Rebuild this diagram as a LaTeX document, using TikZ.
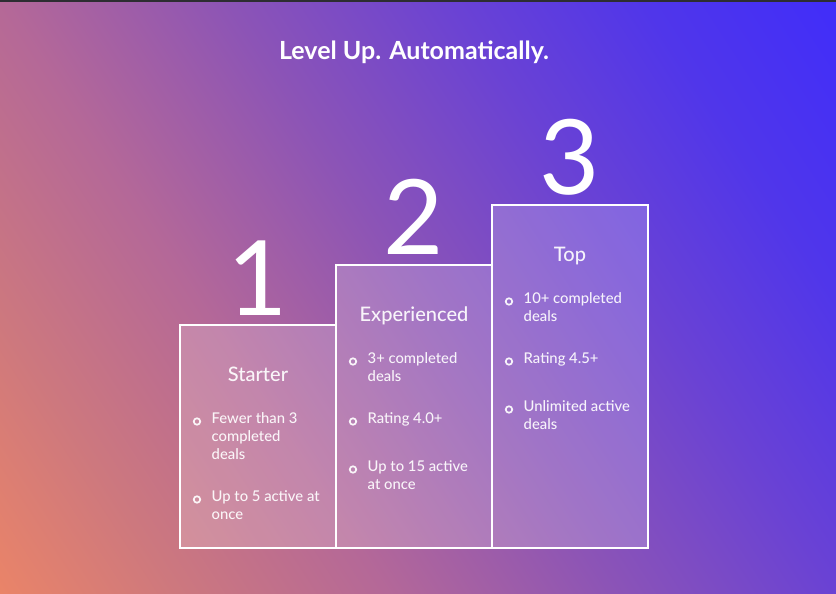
\documentclass[tikz,border=0pt]{standalone}
\usepackage{fontspec}
\setmainfont{Lato Medium}[BoldFont={Lato Bold}]
\newfontfamily\numfont{Lato}
\definecolor{s0}{RGB}{234,132,104}
\definecolor{s1}{RGB}{205,120,126}
\definecolor{s2}{RGB}{180,104,152}
\definecolor{s3}{RGB}{140,84,182}
\definecolor{s4}{RGB}{106,66,212}
\definecolor{s5}{RGB}{80,54,234}
\definecolor{s6}{RGB}{64,45,250}
\definecolor{topbar}{RGB}{45,45,50}
\pgfdeclarehorizontalshading{bgshade}{1200bp}{color(0bp)=(s0); color(150bp)=(s1); color(324bp)=(s2); color(512bp)=(s3); color(700bp)=(s4); color(860bp)=(s5); color(1026bp)=(s6)}
\tikzset{
  tier/.style={draw=white, line width=1.6pt, fill=white, fill opacity=0.2, draw opacity=1, minimum width=156pt, inner sep=0pt},
  bignum/.style={text=white, font=\numfont\fontsize{104}{104}\selectfont, inner sep=0pt, anchor=base},
  head/.style={text=white, text opacity=0.92, font=\fontsize{20}{24}\selectfont, inner sep=0pt, anchor=base},
  item/.style={text=white, text opacity=0.92, font=\fontsize{14.8}{18}\selectfont, inner sep=0pt, anchor=north west, align=left},
  bul/.style={circle, draw=white, line width=1.7pt, minimum size=6.5pt, inner sep=0pt, draw opacity=0.92},
  ttl/.style={text=white, font=\bfseries\fontsize{25}{28}\selectfont, inner sep=0pt, anchor=base}
}
\begin{document}
\begin{tikzpicture}[x=1pt, y=-1pt]
\useasboundingbox (0,0) rectangle (836,594);
\begin{scope}
\clip (0,0) rectangle (836,594);
\node[inner sep=0pt, outer sep=0pt, rotate=33, anchor=west] (bg) at (0,594) {\pgfuseshading{bgshade}};
\end{scope}
\fill[topbar] (0,0) rectangle (836,1.6);
\node[ttl] (title) at (414,59.5) {Level Up. Automatically.};
% boxes
\node[tier, minimum height=223pt] (box1) at (258,436.5) {};
\node[tier, minimum height=283pt] (box2) at (414,406.5) {};
\node[tier, minimum height=343pt] (box3) at (570,376.5) {};
% numbers
\node[bignum] (n1) at (258,315) {1};
\node[bignum] (n2) at (414,254) {2};
\node[bignum] (n3) at (570,194) {3};
% headings
\node[head] (h1) at (258,381) {Starter};
\node[head] (h2) at (414,321) {Experienced};
\node[head] (h3) at (570,261) {Top};
% box 1 items
\node[bul] (d1a) at (197,421.5) {};
\node[item] (t1a) at (211.5,412) {Fewer than 3\\completed\\deals};
\node[bul] (d1b) at (197,499.5) {};
\node[item] (t1b) at (211.5,490) {Up to 5 active at\\once};
% box 2 items
\node[bul] (d2a) at (353,361.5) {};
\node[item] (t2a) at (367.5,352) {3+ completed\\deals};
\node[bul] (d2b) at (353,421.5) {};
\node[item] (t2b) at (367.5,412) {Rating 4.0+};
\node[bul] (d2c) at (353,469.5) {};
\node[item] (t2c) at (367.5,460) {Up to 15 active\\at once};
% box 3 items
\node[bul] (d3a) at (509,301.5) {};
\node[item] (t3a) at (523.5,292) {10+ completed\\deals};
\node[bul] (d3b) at (509,361.5) {};
\node[item] (t3b) at (523.5,352) {Rating 4.5+};
\node[bul] (d3c) at (509,409.5) {};
\node[item] (t3c) at (523.5,400) {Unlimited active\\deals};
\end{tikzpicture}
\end{document}
